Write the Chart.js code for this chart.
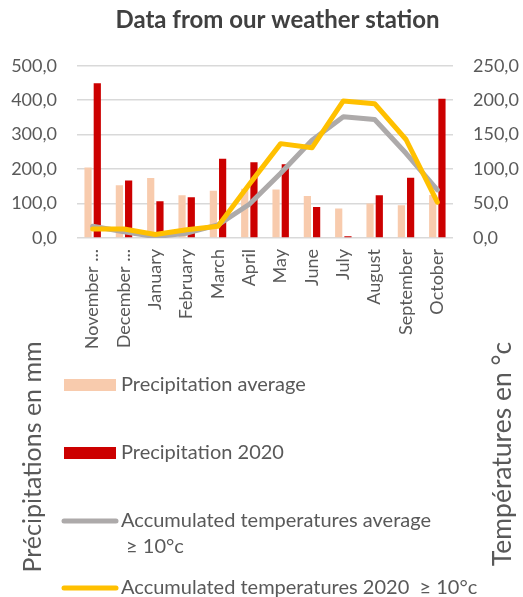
<!DOCTYPE html>
<html><head><meta charset="utf-8">
<script src="https://cdn.jsdelivr.net/npm/chart.js@4.4.1/dist/chart.umd.min.js"></script>
<style>html,body{margin:0;padding:0;background:#fff;}</style>
</head><body>
<canvas id="c" width="523" height="597"></canvas>
<script>
const categories = ['November ...','December ...','January','February','March','April','May','June','July','August','September','October'];
const precipAverage = [205,153,174,124,137,143,141,122,86,100,95,125];
const precip2020 = [449,167,107,118,230,220,214,90,5,124,175,404];
const tempAverage = [17,9,2,7,19,49,94,142,176,172,123,70];
const temp2020 = [13,13,5,12,17,78,137,131,199,195,143,52];
const seriesNames = ['Precipitation average','Precipitation 2020','Accumulated temperatures average ≥ 10°c','Accumulated temperatures 2020  ≥ 10°c'];
const legendLines = [['Precipitation average'],['Precipitation 2020'],['Accumulated temperatures average',' ≥ 10°c'],['Accumulated temperatures 2020  ≥ 10°c']];
const leftAxisTitle = 'Précipitations en mm';
const rightAxisTitle = 'Températures en °c';
const chartTitle = 'Data from our weather station';
const leftRange = [0, 500, 100];
const rightRange = [0, 250, 50];

const FONT = 'Lato';
const TXT = '#595959';
const fmt = v => Number(v).toFixed(1).replace('.', ',');

const customLegend = {
  id: 'customLegend',
  afterDraw(chart) {
    const ctx = chart.ctx;
    const ds = chart.data.datasets;
    ctx.save();
    ctx.textBaseline = 'middle';
    ctx.textAlign = 'left';
    ctx.fillStyle = TXT;
    ctx.font = '20px ' + FONT;
    const rows = [
      {y: 385, lines: legendLines[0], ds: ds[0], kind: 'box'},
      {y: 453, lines: legendLines[1], ds: ds[1], kind: 'box'},
      {y: 521, lines: legendLines[2], ds: ds[2], kind: 'line'},
      {y: 588, lines: legendLines[3], ds: ds[3], kind: 'line'}
    ];
    rows.forEach(r => {
      if (r.kind === 'box') {
        ctx.fillStyle = r.ds.backgroundColor;
        ctx.fillRect(64, r.y - 6, 52, 12);
      } else {
        ctx.strokeStyle = r.ds.borderColor;
        ctx.lineWidth = 5;
        ctx.lineCap = 'round';
        ctx.beginPath(); ctx.moveTo(64, r.y); ctx.lineTo(116, r.y); ctx.stroke();
      }
      ctx.fillStyle = TXT;
      r.lines.forEach((t, i) => ctx.fillText(t, 121, r.y + i * 26));
    });
    ctx.textAlign = 'center';
    ctx.font = '25px ' + FONT;
    ctx.save(); ctx.translate(33, 457); ctx.rotate(-Math.PI / 2); ctx.fillText(leftAxisTitle, 0, 0); ctx.restore();
    ctx.font = '26.5px ' + FONT;
    ctx.save(); ctx.translate(502, 454); ctx.rotate(-Math.PI / 2); ctx.fillText(rightAxisTitle, 0, 0); ctx.restore();
    ctx.restore();
  }
};

new Chart(document.getElementById('c'), {
  data: {
    labels: categories,
    datasets: [
      {type: 'bar', label: seriesNames[0], data: precipAverage, backgroundColor: '#F8CBAD', yAxisID: 'y', order: 3,
       categoryPercentage: 0.59, barPercentage: 0.78},
      {type: 'bar', label: seriesNames[1], data: precip2020, backgroundColor: '#CC0000', yAxisID: 'y', order: 3,
       categoryPercentage: 0.59, barPercentage: 0.78},
      {type: 'line', label: seriesNames[2], data: tempAverage, borderColor: '#ADAAAA', backgroundColor: '#ADAAAA', yAxisID: 'y1', order: 2,
       borderWidth: 5, pointRadius: 0, tension: 0, borderJoinStyle: 'round', borderCapStyle: 'round'},
      {type: 'line', label: seriesNames[3], data: temp2020, borderColor: '#FFC000', backgroundColor: '#FFC000', yAxisID: 'y1', order: 1,
       borderWidth: 5, pointRadius: 0, tension: 0, borderJoinStyle: 'round', borderCapStyle: 'round'}
    ]
  },
  options: {
    responsive: false,
    animation: false,
    devicePixelRatio: 1,
    layout: {padding: {left: 0, right: -32, top: 0, bottom: 249}},
    plugins: {
      legend: {display: false},
      tooltip: {enabled: false},
      title: {display: true, text: chartTitle, color: '#404040', font: {family: FONT, size: 24, weight: 'bold'}, padding: {top: 6, bottom: 31}}
    },
    scales: {
      x: {
        grid: {display: false, drawTicks: false},
        border: {display: false},
        ticks: {color: TXT, font: {family: FONT, size: 18}, maxRotation: 90, minRotation: 90, autoSkip: false, padding: 11},
        afterFit: s => { s.height = 110; }
      },
      y: {
        position: 'left', min: leftRange[0], max: leftRange[1],
        grid: {color: '#D9D9D9', lineWidth: 1.5, drawTicks: false},
        border: {display: false},
        ticks: {stepSize: leftRange[2], color: TXT, font: {family: FONT, size: 18}, padding: 20, callback: v => fmt(v)},
        afterFit: s => { s.width = 77; }
      },
      y1: {
        position: 'right', min: rightRange[0], max: rightRange[1],
        grid: {display: false, drawTicks: false},
        border: {display: false},
        ticks: {stepSize: rightRange[2], color: TXT, font: {family: FONT, size: 18}, padding: 20, callback: v => fmt(v)},
        afterFit: s => { s.width = 102; }
      }
    }
  },
  plugins: [customLegend]
});
</script>
</body></html>
